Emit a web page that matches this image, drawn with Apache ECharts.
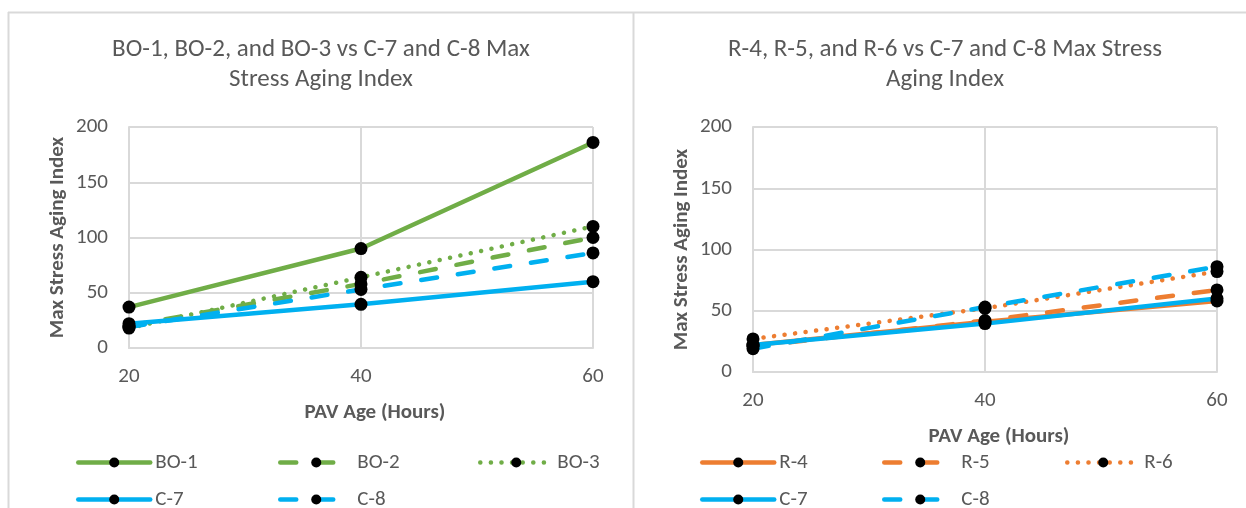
<!DOCTYPE html>
<html>
<head>
<meta charset="utf-8">
<script src="https://cdn.jsdelivr.net/npm/echarts@6/dist/echarts.min.js"></script>
<style>
  html, body { margin: 0; padding: 0; background: #ffffff; }
  #chart { width: 1246px; height: 508px; }
</style>
</head>
<body>
<div id="chart"></div>
<script>
// PAV aging hours (x) and max stress aging index per binder
const pavAge = [20, 40, 60];
const bo1 = [37, 90, 186];
const bo2 = [20, 58, 100];
const bo3 = [18, 64, 110];
const c7  = [22, 39.5, 60];
const c8  = [19, 53, 86];
const r4  = [22, 41, 58];
const r5  = [21, 42, 67];
const r6  = [27, 52, 82];

const xTicks = { min: 20, max: 60, interval: 20 };
const yTicks = { min: 0, max: 200, interval: 50 };

const titleLeft  = 'BO-1, BO-2, and BO-3 vs C-7 and C-8 Max\nStress Aging Index';
const titleRight = 'R-4, R-5, and R-6 vs C-7 and C-8 Max Stress\nAging Index';
const xName = 'PAV Age (Hours)';
const yName = 'Max Stress Aging Index';

const FONT = 'Carlito, Lato, "Open Sans", sans-serif';
const TEXT = '#595959';
const GRID = '#d9d9d9';
const GREEN = '#70AD47';
const BLUE = '#00B0F0';
const ORANGE = '#ED7D31';

const SOLID = 'solid';
const DASH = [16, 21];
const DOT = [0.1, 10.5];

const toPoints = ys => pavAge.map((x, i) => [x, ys[i]]);

function lineSeries(name, ys, color, dash, panel) {
  return {
    name: name,
    type: 'line',
    xAxisIndex: panel,
    yAxisIndex: panel,
    data: toPoints(ys),
    symbol: 'circle',
    symbolSize: 13,
    itemStyle: { color: '#000000' },
    lineStyle: { color: color, width: 4.5, type: dash, cap: 'round' },
    emphasis: { disabled: true },
    silent: true
  };
}

function xAxis(panel) {
  return {
    type: 'value',
    gridIndex: panel,
    min: xTicks.min, max: xTicks.max, interval: xTicks.interval,
    axisLine: { show: true, lineStyle: { color: GRID, width: 2 } },
    axisTick: { show: false },
    splitLine: { show: true, lineStyle: { color: GRID, width: 2 } },
    axisLabel: { color: TEXT, fontSize: 21, fontFamily: FONT, margin: 18 },
    name: xName,
    nameLocation: 'middle',
    nameGap: 54,
    nameTextStyle: { color: TEXT, fontSize: 21, fontWeight: 'bold', fontFamily: FONT, padding: [0, 0, 0, 28] }
  };
}

function yAxis(panel) {
  return {
    type: 'value',
    gridIndex: panel,
    min: yTicks.min, max: yTicks.max, interval: yTicks.interval,
    axisLine: { show: true, lineStyle: { color: GRID, width: 2 } },
    axisTick: { show: false },
    splitLine: { show: true, lineStyle: { color: GRID, width: 2 } },
    axisLabel: { color: TEXT, fontSize: 21, fontFamily: FONT, margin: 21 },
    name: yName,
    nameLocation: 'middle',
    nameGap: 61,
    nameTextStyle: { color: TEXT, fontSize: 21, fontWeight: 'bold', fontFamily: FONT }
  };
}

function legendItem(name, left, top) {
  return {
    data: [name],
    left: left,
    top: top,
    padding: 0,
    itemWidth: 72,
    itemHeight: 12.5,
    itemGap: 0,
    selectedMode: false,
    lineStyle: { width: 'inherit' },
    textStyle: { color: TEXT, fontSize: 21, fontFamily: FONT }
  };
}

const row1 = 452, row2 = 489;

const option = {
  animation: false,
  backgroundColor: '#ffffff',
  textStyle: { fontFamily: FONT },
  grid: [
    { left: 129, top: 127, width: 464, height: 221 },
    { left: 753, top: 127, width: 464, height: 245 }
  ],
  xAxis: [xAxis(0), xAxis(1)],
  yAxis: [yAxis(0), yAxis(1)],
  legend: [
    legendItem('BO-1', 76, row1),
    legendItem('BO-2', 278, row1),
    legendItem('BO-3', 478, row1),
    legendItem('C-7', 76, row2),
    legendItem('C-8', 278, row2),
    legendItem('R-4', 700, row1),
    legendItem('R-5', 882, row1),
    legendItem('R-6', 1065, row1),
    legendItem('C-7', 700, row2),
    legendItem('C-8', 882, row2)
  ],
  series: [
    lineSeries('BO-1', bo1, GREEN, SOLID, 0),
    lineSeries('BO-2', bo2, GREEN, DASH, 0),
    lineSeries('BO-3', bo3, GREEN, DOT, 0),
    lineSeries('C-7', c7, BLUE, SOLID, 0),
    lineSeries('C-8', c8, BLUE, DASH, 0),
    lineSeries('R-4', r4, ORANGE, SOLID, 1),
    lineSeries('R-5', r5, ORANGE, DASH, 1),
    lineSeries('R-6', r6, ORANGE, DOT, 1),
    lineSeries('C-7', c7, BLUE, SOLID, 1),
    lineSeries('C-8', c8, BLUE, DASH, 1)
  ],
  graphic: [
    // chart frames
    { type: 'line', silent: true, shape: { x1: 8, y1: 12.5, x2: 1246, y2: 12.5 }, style: { stroke: GRID, lineWidth: 2 } },
    { type: 'line', silent: true, shape: { x1: 8.5, y1: 12, x2: 8.5, y2: 508 }, style: { stroke: GRID, lineWidth: 2 } },
    { type: 'line', silent: true, shape: { x1: 633.5, y1: 12, x2: 633.5, y2: 508 }, style: { stroke: GRID, lineWidth: 2 } },
    // panel titles
    { type: 'text', silent: true, x: 321, y: 35,
      style: { text: titleLeft, align: 'center', verticalAlign: 'top', fill: TEXT, fontSize: 25, fontFamily: FONT, lineHeight: 30 } },
    { type: 'text', silent: true, x: 945, y: 35,
      style: { text: titleRight, align: 'center', verticalAlign: 'top', fill: TEXT, fontSize: 25, fontFamily: FONT, lineHeight: 30 } }
  ]
};

const chart = echarts.init(document.getElementById('chart'), null, { renderer: 'canvas' });
chart.setOption(option);
</script>
</body>
</html>
